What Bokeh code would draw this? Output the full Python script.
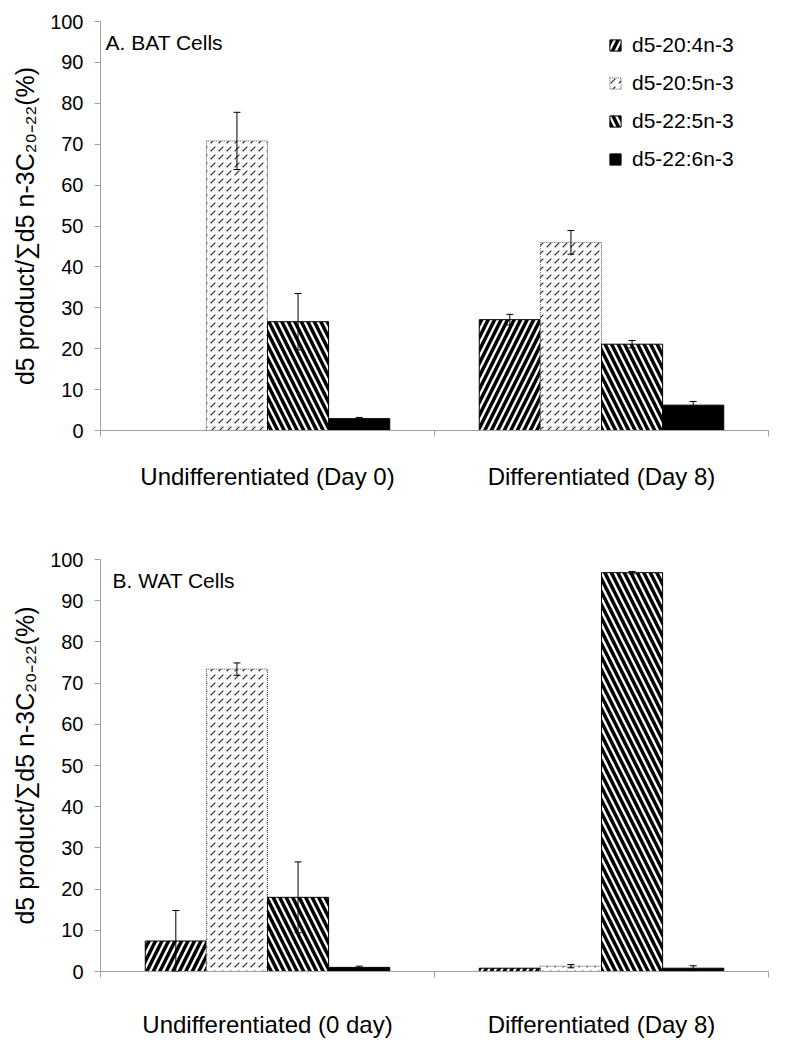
import math
from bokeh.plotting import figure
from bokeh.models import (Range1d, LinearAxis, FixedTicker, ColumnDataSource,
                          Whisker, TeeHead, Legend, LegendItem, Label)
from bokeh.layouts import column
from bokeh.embed import file_html
from bokeh.resources import INLINE

NaN = float("nan")

# ---------------- data ----------------
series = ["d5-20:4n-3", "d5-20:5n-3", "d5-22:5n-3", "d5-22:6n-3"]

bat_categories = ["Undifferentiated (Day 0)", "Differentiated (Day 8)"]
bat_20_4 = [NaN, 27.1]
bat_20_4_err = [NaN, 1.3]
bat_20_5 = [70.8, 46.0]
bat_20_5_err = [7.0, 2.9]
bat_22_5 = [26.6, 21.1]
bat_22_5_err = [6.9, 0.9]
bat_22_6 = [2.9, 6.2]
bat_22_6_err = [0.3, 0.9]

wat_categories = ["Undifferentiated (0 day)", "Differentiated (Day 8)"]
wat_20_4 = [7.4, 0.8]
wat_20_4_err = [7.4, 0.0]
wat_20_5 = [73.4, 1.3]
wat_20_5_err = [1.5, 0.4]
wat_22_5 = [18.0, 96.8]
wat_22_5_err = [8.6, 0.3]
wat_22_6 = [1.0, 0.8]
wat_22_6_err = [0.3, 0.6]

y_ticks = list(range(0, 101, 10))

y_label = "d5 product/\u2211d5 n-3C\u2082\u2080\u208b\u2082\u2082(%)"

FONT = "Liberation Sans"
AXIS_GRAY = "#a0a0a0"
BAR_W = 0.183


def make_styles():
    return [
        dict(fill_color="white", hatch_pattern="/", hatch_color="black",
             hatch_weight=3.5, hatch_scale=13, line_color="black", line_width=1),
        dict(fill_color="white", hatch_pattern=",", hatch_color="#222222",
             hatch_weight=1.1, hatch_scale=8,
             line_color="#555555", line_dash="1 1", line_width=1),
        dict(fill_color="white", hatch_pattern="\\", hatch_color="black",
             hatch_weight=3.5, hatch_scale=13, line_color="black", line_width=1),
        dict(fill_color="black", line_color="black", line_width=1),
    ]


def make_panel(categories, values, errors, title, width, height, left, right,
               top, bottom, cat_standoff, title_dx, show_legend):
    p = figure(width=width, height=height, x_range=Range1d(0, len(categories)),
               y_range=Range1d(0, 100), x_axis_type=None,
               output_backend="svg", toolbar_location=None,
               min_border_left=left, min_border_right=right,
               min_border_top=top, min_border_bottom=bottom)
    p.outline_line_color = None
    p.ygrid.visible = False
    p.background_fill_color = "white"

    ya = p.yaxis[0]
    ya.ticker = FixedTicker(ticks=y_ticks, minor_ticks=[])
    ya.major_tick_out = 6
    ya.major_tick_in = 0
    ya.minor_tick_out = 0
    ya.minor_tick_in = 0
    ya.axis_line_color = AXIS_GRAY
    ya.major_tick_line_color = AXIS_GRAY
    ya.major_label_text_font = FONT
    ya.major_label_text_font_size = "20px"
    ya.major_label_text_color = "black"
    ya.major_label_standoff = 11
    ya.axis_label = y_label
    ya.axis_label_text_font = FONT
    ya.axis_label_text_font_size = "25px"
    ya.axis_label_text_font_style = "normal"
    ya.axis_label_text_color = "black"
    ya.axis_label_standoff = 8

    n = len(categories)
    bounds = list(range(n + 1))
    ax_ticks = LinearAxis(ticker=FixedTicker(ticks=bounds, minor_ticks=[]),
                          major_label_overrides={b: "" for b in bounds},
                          major_tick_out=6, major_tick_in=0,
                          minor_tick_out=0, minor_tick_in=0,
                          axis_line_color=AXIS_GRAY,
                          major_tick_line_color=AXIS_GRAY,
                          major_label_text_font_size="1px",
                          major_label_standoff=0)
    p.add_layout(ax_ticks, "below")
    centers = [i + 0.5 for i in range(n)]
    ax_labels = LinearAxis(ticker=FixedTicker(ticks=centers, minor_ticks=[]),
                           major_label_overrides={c: categories[i] for i, c in enumerate(centers)},
                           axis_line_color=None, major_tick_line_color=None,
                           minor_tick_line_color=None,
                           major_tick_out=0, major_tick_in=0,
                           major_label_text_font=FONT,
                           major_label_text_font_size="24px",
                           major_label_text_color="black",
                           major_label_standoff=cat_standoff)
    p.add_layout(ax_labels, "below")

    styles = make_styles()
    renderers = []
    for k, (vals, errs) in enumerate(zip(values, errors)):
        off = (k - 1.5) * BAR_W
        xs = [i + 0.5 + off for i in range(n)]
        src = ColumnDataSource(dict(x=xs, top=vals))
        r = p.vbar(x="x", top="top", bottom=0, width=BAR_W, source=src, **styles[k])
        renderers.append(r)
        wx, wu, wl = [], [], []
        for x, v, e in zip(xs, vals, errs):
            if not (math.isnan(v) or math.isnan(e)) and e > 0:
                wx.append(x)
                wu.append(v + e)
                wl.append(max(v - e, 0))
        if wx:
            wsrc = ColumnDataSource(dict(base=wx, upper=wu, lower=wl))
            w = Whisker(source=wsrc, base="base", upper="upper", lower="lower",
                        dimension="height", line_color="black", line_width=1,
                        upper_head=TeeHead(size=7, line_color="black", line_width=1),
                        lower_head=TeeHead(size=7, line_color="black", line_width=1),
                        level="overlay")
            p.add_layout(w)

    p.add_layout(Label(x=0, y=100, x_units="data", y_units="data",
                       x_offset=title_dx, y_offset=-9, text=title,
                       text_font=FONT, text_font_size="21px",
                       text_baseline="top", text_align="left",
                       text_color="black"))

    if show_legend:
        legend = Legend(items=[LegendItem(label=s, renderers=[r])
                               for s, r in zip(series, renderers)],
                        location="top_right", border_line_color=None,
                        background_fill_alpha=0,
                        label_text_font=FONT, label_text_font_size="21px",
                        label_text_color="black",
                        glyph_width=14, glyph_height=14, label_standoff=10,
                        spacing=14, padding=0, margin=12, label_width=124)
        p.add_layout(legend)
    return p


top = make_panel(bat_categories,
                 [bat_20_4, bat_20_5, bat_22_5, bat_22_6],
                 [bat_20_4_err, bat_20_5_err, bat_22_5_err, bat_22_6_err],
                 "A. BAT Cells", 790, 528, 98, 14, 21, 98, 26, 5, True)
bottom = make_panel(wat_categories,
                    [wat_20_4, wat_20_5, wat_22_5, wat_22_6],
                    [wat_20_4_err, wat_20_5_err, wat_22_5_err, wat_22_6_err],
                    "B. WAT Cells", 790, 522, 100, 22, 31, 79, 33, 12, False)

layout = column(top, bottom, spacing=0)
open("out.html", "w").write(file_html(layout, INLINE))
